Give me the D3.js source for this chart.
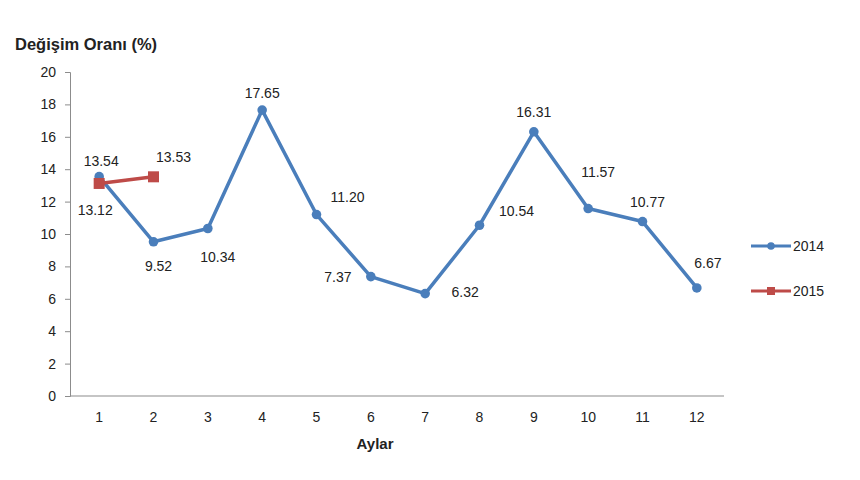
<!DOCTYPE html>
<html><head><meta charset="utf-8">
<script src="https://cdn.jsdelivr.net/npm/d3@7"></script>
<style>body{margin:0;background:#fff;font-family:"Liberation Sans",Arial,sans-serif}</style>
</head><body><svg id="c" width="860" height="480"></svg>
<script>
const months = [1,2,3,4,5,6,7,8,9,10,11,12];
const values2014 = [13.54,9.52,10.34,17.65,11.20,7.37,6.32,10.54,16.31,11.57,10.77,6.67];
const values2015 = [13.12,13.53];
const yTicks = [0,2,4,6,8,10,12,14,16,18,20];
const seriesNames = ["2014","2015"];
// label offsets (dx, dy) relative to point, styling only
const off2014 = [[2,-16],[5,24],[10,29],[0,-17],[31,-18],[-33,0],[40,-2],[37,-14],[0,-20],[10,-37],[5,-20],[11,-25]];
const off2015 = [[-4,27],[20,-20]];

const svg = d3.select("#c");
const m = {l:70, r:724, t:72, b:396};
const x = d3.scaleBand().domain(months).range([m.l+2, m.r]);
const y = d3.scaleLinear().domain([0,20]).range([m.b, m.t]);
const cx = d => x(d) + x.bandwidth()/2;
const axisCol = "#8c8c8c";
const FONT = "Liberation Sans, Arial, sans-serif";

const ya = svg.append("g").attr("transform",`translate(${m.l},0)`)
  .call(d3.axisLeft(y).tickValues(yTicks).tickSize(5).tickPadding(9));
ya.select(".domain").attr("stroke",axisCol);
ya.selectAll(".tick line").attr("stroke",axisCol);
ya.selectAll("text").attr("font-size",14).attr("fill","#222").attr("font-family",FONT);

const xa = svg.append("g").attr("transform",`translate(0,${m.b})`)
  .call(d3.axisBottom(x).tickSize(0).tickPadding(16).tickSizeOuter(0));
xa.select(".domain").attr("stroke",axisCol).attr("stroke-width",1.2).attr("d",`M${m.l},0H${m.r}`);
xa.selectAll("text").attr("font-size",14).attr("fill","#222").attr("font-family",FONT);

svg.append("text").attr("x",15).attr("y",50).attr("font-size",16.5).attr("font-weight","bold")
  .attr("fill","#222").attr("font-family",FONT).text("Değişim Oranı (%)");
svg.append("text").attr("x",375).attr("y",449).attr("font-size",15).attr("font-weight","bold")
  .attr("text-anchor","middle").attr("fill","#222").attr("font-family",FONT).text("Aylar");

const blue = "#4a7ebb", red = "#be4b48";
const line = d3.line().x((d,i)=>cx(months[i])).y(d=>y(d));

svg.append("path").datum(values2014).attr("d",line).attr("fill","none")
  .attr("stroke",blue).attr("stroke-width",3.5).attr("stroke-linejoin","round");
svg.selectAll(".p14").data(values2014).enter().append("circle")
  .attr("cx",(d,i)=>cx(months[i])).attr("cy",d=>y(d)).attr("r",4.8).attr("fill",blue);

svg.append("path").datum(values2015).attr("d",line).attr("fill","none")
  .attr("stroke",red).attr("stroke-width",3.5);
svg.selectAll(".p15").data(values2015).enter().append("rect")
  .attr("x",(d,i)=>cx(months[i])-5.5).attr("y",d=>y(d)-5.5).attr("width",11).attr("height",11).attr("fill",red);

const fmt = d3.format(".2f");
svg.selectAll(".l14").data(values2014).enter().append("text")
  .attr("x",(d,i)=>cx(months[i])+off2014[i][0]).attr("y",(d,i)=>y(d)+off2014[i][1]+5)
  .attr("text-anchor","middle").attr("font-size",14).attr("fill","#222").attr("font-family",FONT).text(d=>fmt(d));
svg.selectAll(".l15").data(values2015).enter().append("text")
  .attr("x",(d,i)=>cx(months[i])+off2015[i][0]).attr("y",(d,i)=>y(d)+off2015[i][1]+5)
  .attr("text-anchor","middle").attr("font-size",14).attr("fill","#222").attr("font-family",FONT).text(d=>fmt(d));

// legend
const lg = svg.append("g");
[[blue,"circle",246],[red,"rect",291]].forEach((s,i)=>{
  lg.append("line").attr("x1",751).attr("x2",791).attr("y1",s[2]).attr("y2",s[2]).attr("stroke",s[0]).attr("stroke-width",3);
  if(s[1]==="circle") lg.append("circle").attr("cx",771).attr("cy",s[2]).attr("r",3.8).attr("fill",s[0]);
  else lg.append("rect").attr("x",767).attr("y",s[2]-4).attr("width",8).attr("height",8).attr("fill",s[0]);
  lg.append("text").attr("x",793).attr("y",s[2]+5).attr("font-size",14).attr("fill","#222").attr("font-family",FONT).text(seriesNames[i]);
});
</script></body></html>
